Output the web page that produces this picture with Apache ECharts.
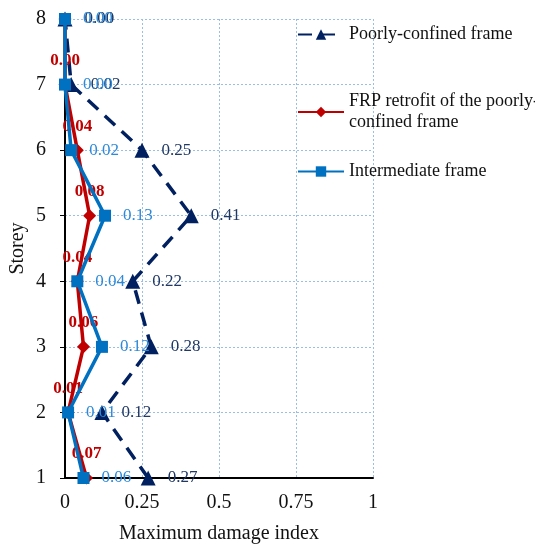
<!DOCTYPE html>
<html><head><meta charset="utf-8">
<script src="https://cdn.jsdelivr.net/npm/echarts@6/dist/echarts.min.js"></script>
<style>html,body{margin:0;padding:0;background:#fff}#c{width:535px;height:547px}</style>
</head><body><div id="c"></div>
<script>
const storeys = [1, 2, 3, 4, 5, 6, 7, 8];
const poorlyConfined = [0.27, 0.12, 0.28, 0.22, 0.41, 0.25, 0.02, 0.00];
const frpRetrofit = [0.07, 0.01, 0.06, 0.04, 0.08, 0.04, 0.00, 0.00];
const intermediate = [0.06, 0.01, 0.12, 0.04, 0.13, 0.02, 0.00, 0.00];
const xTicks = [0, 0.25, 0.5, 0.75, 1];
const seriesNames = ['Poorly-confined frame', 'FRP retrofit of the poorly-\nconfined frame', 'Intermediate frame'];

const font = '"Liberation Serif", "Times New Roman", serif';
const pair = arr => arr.map((v, i) => [v, storeys[i]]);
const fmt = p => p.value[0].toFixed(2);

const chart = echarts.init(document.getElementById('c'), null, {renderer: 'canvas'});
const gridLine = {show: true, lineStyle: {color: '#9dbde6', type: [2, 2], width: 1}};
chart.setOption({
  animation: false,
  backgroundColor: '#fff',
  textStyle: {fontFamily: font},
  grid: {left: 65, right: 162, top: 19, bottom: 69, containLabel: false, outerBoundsMode: 'none'},
  legend: [0, 1, 2].map((k, i) => ({
    data: [seriesNames[k]],
    orient: 'vertical',
    left: 292,
    top: [19, 86, 156][i],
    padding: 5,
    itemWidth: 46,
    itemHeight: 13,
    itemGap: 6,
    textStyle: {fontFamily: font, fontSize: 18, color: '#111', lineHeight: 21}
  })),
  xAxis: {
    type: 'value', min: 0, max: 1, interval: 0.25,
    name: 'Maximum damage index', nameLocation: 'middle', nameGap: 46,
    nameMoveOverlap: false,
    nameTextStyle: {fontFamily: font, fontSize: 20, color: '#111'},
    axisLine: {show: true, onZero: false, lineStyle: {color: '#000', width: 2}},
    axisTick: {show: false},
    axisLabel: {fontFamily: font, fontSize: 20, color: '#111', margin: 15,
      formatter: v => xTicks.includes(v) ? String(v) : ''},
    splitLine: gridLine
  },
  yAxis: {
    type: 'value', min: 1, max: 8, interval: 1,
    name: 'Storey', nameLocation: 'middle', nameGap: 37, nameRotate: 90,
    nameMoveOverlap: false,
    nameTextStyle: {fontFamily: font, fontSize: 20, color: '#111'},
    axisLine: {show: true, onZero: false, lineStyle: {color: '#000', width: 2}},
    axisTick: {show: true, inside: false, length: 5, lineStyle: {color: '#000', width: 1}},
    axisLabel: {fontFamily: font, fontSize: 20, color: '#111', margin: 19},
    splitLine: gridLine
  },
  series: [
    {
      name: seriesNames[0], type: 'line', data: pair(poorlyConfined), clip: false,
      symbol: 'triangle', symbolSize: 15,
      lineStyle: {color: '#002060', width: 3.5, type: [14, 9]},
      itemStyle: {color: '#002060'},
      label: {show: true, position: 'right', distance: 12, formatter: fmt,
        fontFamily: font, fontSize: 17, color: '#1f3864'},
      z: 2
    },
    {
      name: seriesNames[1], type: 'line', data: pair(frpRetrofit), clip: false,
      symbol: 'diamond', symbolSize: 13,
      lineStyle: {color: '#c00000', width: 3.5},
      itemStyle: {color: '#c00000'},
      label: {show: true, position: 'top', distance: 9, formatter: fmt,
        fontFamily: font, fontSize: 17, fontWeight: 'bold', color: '#c00000'},
      z: 3
    },
    {
      name: seriesNames[2], type: 'line', data: pair(intermediate), clip: false,
      symbol: 'rect', symbolSize: 12,
      lineStyle: {color: '#0070c0', width: 3.5},
      itemStyle: {color: '#0070c0'},
      label: {show: true, position: 'right', distance: 12, formatter: fmt,
        fontFamily: font, fontSize: 17, color: '#2e8ad8'},
      z: 4
    }
  ]
});
</script></body></html>
